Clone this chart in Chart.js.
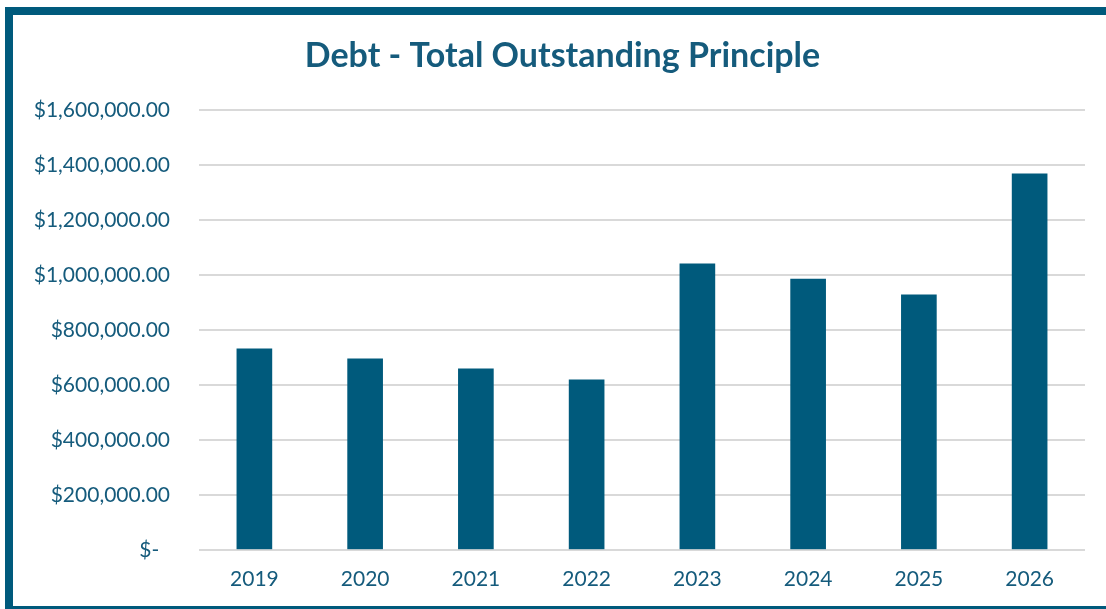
<!DOCTYPE html>
<html>
<head>
<meta charset="utf-8">
<script src="https://cdn.jsdelivr.net/npm/chart.js@4.4.1/dist/chart.umd.min.js"></script>
<style>
html,body{margin:0;padding:0;background:#fff;}
#wrap{width:1106px;height:609px;position:relative;}
</style>
</head>
<body>
<div id="wrap"><canvas id="c" width="1106" height="609"></canvas></div>
<script>
const categories = ['2019','2020','2021','2022','2023','2024','2025','2026'];
const principal = [731000, 694500, 658000, 618000, 1040000, 984000, 927000, 1367000];
const yTickValues = [0, 200000, 400000, 600000, 800000, 1000000, 1200000, 1400000, 1600000];
const chartTitle = 'Debt - Total Outstanding Principle';

const TEXT = '#155b7c';
const BAR = '#005a7c';
const FONT = 'Lato, "Open Sans", sans-serif';

function fmt(v){
  if (v === 0) return '$-  ';
  return '$' + v.toLocaleString('en-US',{minimumFractionDigits:2,maximumFractionDigits:2});
}

const frame = {
  id:'frame',
  afterLayout(chart){
    if (chart.titleBlock) { chart.titleBlock.left = 40; }
  },
  beforeDraw(chart){
    const ctx = chart.ctx;
    ctx.save();
    ctx.fillStyle = '#fff';
    ctx.fillRect(0,0,chart.width,chart.height);
    ctx.strokeStyle = '#005a7c';
    ctx.lineWidth = 8;
    ctx.strokeRect(9, 11, 1200, 599);
    ctx.restore();
  }
};

new Chart(document.getElementById('c'), {
  type:'bar',
  data:{
    labels: categories,
    datasets:[{
      data: principal,
      backgroundColor: BAR,
      borderWidth: 0,
      barThickness: 35
    }]
  },
  options:{
    responsive:false,
    animation:false,
    devicePixelRatio:1,
    layout:{padding:{left:0,right:21,top:0,bottom:0}},
    plugins:{
      legend:{display:false},
      tooltip:{enabled:false},
      title:{
        display:true,
        text: chartTitle,
        color: TEXT,
        font:{family:FONT, size:34, weight:'bold'},
        padding:{top:36, bottom:33}
      }
    },
    scales:{
      x:{
        grid:{display:false, drawTicks:false},
        border:{display:false},
        ticks:{color:TEXT, font:{family:FONT, size:21}, padding:17}
      },
      y:{
        min:0, max:1600000,
        afterBuildTicks(scale){ scale.ticks = yTickValues.map(v=>({value:v})); },
        afterFit(scale){ scale.width = 199; },
        grid:{color:'#d9d9d9', lineWidth:2, drawTicks:false},
        border:{display:false},
        ticks:{color:TEXT, font:{family:FONT, size:21}, padding:29, callback:(v)=>fmt(v)}
      }
    }
  },
  plugins:[frame]
});
</script>
</body>
</html>
